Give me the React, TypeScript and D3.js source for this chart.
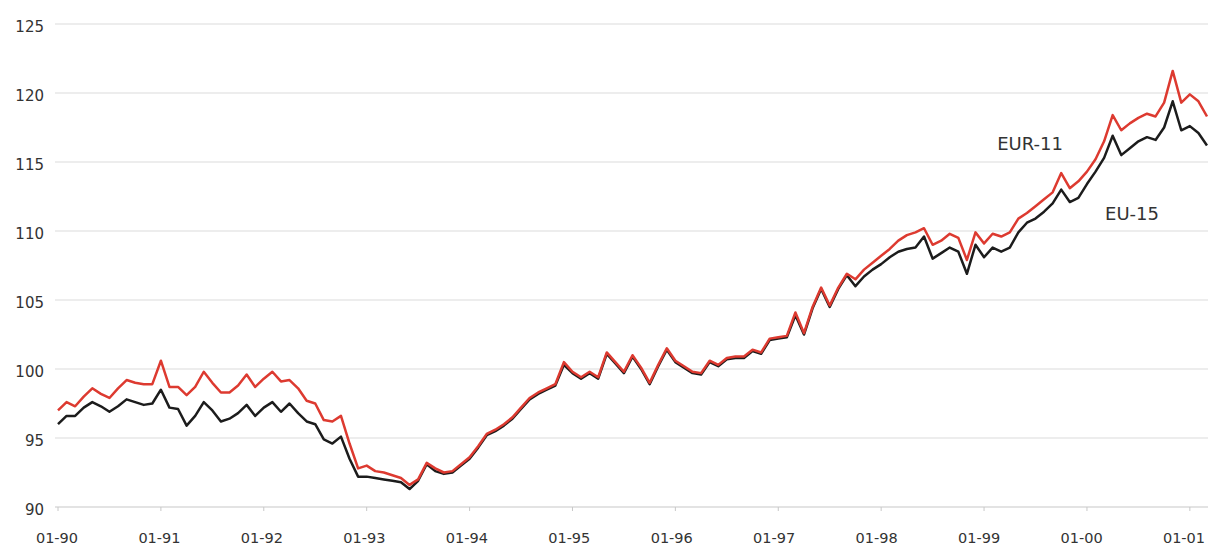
import * as d3 from 'd3';

// monthly index values, Jan 1990 - Mar 2001
const eur11 = [
  97.0, 97.6, 97.3, 98.0, 98.6, 98.2, 97.9, 98.6, 99.2, 99.0, 98.9, 98.9,
  100.6, 98.7, 98.7, 98.1, 98.7, 99.8, 99.0, 98.3, 98.3, 98.8, 99.6, 98.7,
  99.3, 99.8, 99.1, 99.2, 98.6, 97.7, 97.5, 96.3, 96.2, 96.6, 94.6, 92.8,
  93.0, 92.6, 92.5, 92.3, 92.1, 91.6, 92.0, 93.2, 92.8, 92.5, 92.6, 93.1,
  93.6, 94.4, 95.3, 95.6, 96.0, 96.5, 97.2, 97.9, 98.3, 98.6, 98.9, 100.5,
  99.8, 99.4, 99.8, 99.4, 101.2, 100.5, 99.8, 101.0, 100.1, 99.0, 100.3, 101.5,
  100.6, 100.2, 99.8, 99.7, 100.6, 100.3, 100.8, 100.9, 100.9, 101.4, 101.2, 102.2,
  102.3, 102.4, 104.1, 102.6, 104.5, 105.9, 104.6, 105.9, 106.9, 106.5, 107.2, 107.7,
  108.2, 108.7, 109.3, 109.7, 109.9, 110.2, 109.0, 109.3, 109.8, 109.5, 107.9, 109.9,
  109.1, 109.8, 109.6, 109.9, 110.9, 111.3, 111.8, 112.3, 112.8, 114.2, 113.1, 113.6,
  114.3, 115.2, 116.5, 118.4, 117.3, 117.8, 118.2, 118.5, 118.3, 119.3, 121.6, 119.3,
  119.9, 119.4, 118.3,
];

const eu15 = [
  96.0, 96.6, 96.6, 97.2, 97.6, 97.3, 96.9, 97.3, 97.8, 97.6, 97.4, 97.5,
  98.5, 97.2, 97.1, 95.9, 96.6, 97.6, 97.0, 96.2, 96.4, 96.8, 97.4, 96.6,
  97.2, 97.6, 96.9, 97.5, 96.8, 96.2, 96.0, 94.9, 94.6, 95.1, 93.5, 92.2,
  92.2, 92.1, 92.0, 91.9, 91.8, 91.3, 91.9, 93.1, 92.6, 92.4, 92.5, 93.0,
  93.5, 94.3, 95.2, 95.5, 95.9, 96.4, 97.1, 97.8, 98.2, 98.5, 98.8, 100.3,
  99.7, 99.3, 99.7, 99.3, 101.1, 100.4, 99.7, 100.9, 100.0, 98.9, 100.2, 101.4,
  100.5, 100.1, 99.7, 99.6, 100.5, 100.2, 100.7, 100.8, 100.8, 101.3, 101.1, 102.1,
  102.2, 102.3, 103.9, 102.5, 104.4, 105.8, 104.5, 105.8, 106.8, 106.0, 106.7, 107.2,
  107.6, 108.1, 108.5, 108.7, 108.8, 109.6, 108.0, 108.4, 108.8, 108.5, 106.9, 109.0,
  108.1, 108.8, 108.5, 108.8, 109.9, 110.6, 110.9, 111.4, 112.0, 113.0, 112.1, 112.4,
  113.4, 114.3, 115.3, 116.9, 115.5, 116.0, 116.5, 116.8, 116.6, 117.5, 119.4, 117.3,
  117.6, 117.1, 116.2,
];

const yTicks = [90, 95, 100, 105, 110, 115, 120, 125];
const xTickLabels = ['01-90', '01-91', '01-92', '01-93', '01-94', '01-95', '01-96', '01-97', '01-98', '01-99', '01-00', '01-01'];

const W = 1208;
const H = 548;

const App = () => {
  const x = d3.scaleLinear().domain([0, eur11.length - 1]).range([58, 1207]);
  const y = d3.scaleLinear().domain([90, 125]).range([507, 24]);
  // year labels sit a touch left of their ticks towards the right end
  const labelX = d3.scaleLinear().domain([0, xTickLabels.length - 1]).range([57, 1184]);

  const line = d3.line<number>()
    .x((_, i) => x(i))
    .y((d) => y(d));

  const font = '"DejaVu Sans", Verdana, sans-serif';

  return (
    <svg width={W} height={H} style={{ position: 'absolute', left: 0, top: 0, background: '#fff' }}>
      {yTicks.map((t) => (
        <g key={t}>
          <line x1={55} x2={W} y1={y(t)} y2={y(t)} stroke={t === 90 ? '#c8c8c8' : '#dcdcdc'} strokeWidth={1.2} />
          <text x={44} y={y(t) + 8} textAnchor="end" fontSize={15} fill="#333" fontFamily={font}>{t}</text>
        </g>
      ))}
      {xTickLabels.map((lab, k) => (
        <g key={lab}>
          <line x1={x(k * 12)} x2={x(k * 12)} y1={y(90)} y2={y(90) + 4} stroke="#c8c8c8" />
          <text x={labelX(k)} y={543} textAnchor="middle" fontSize={14.5} fill="#333" fontFamily={font}>{lab}</text>
        </g>
      ))}
      <path d={line(eu15) || ''} fill="none" stroke="#1c1c1c" strokeWidth={2.5} strokeLinejoin="round" />
      <path d={line(eur11) || ''} fill="none" stroke="#dd3a30" strokeWidth={2.5} strokeLinejoin="round" />
      <text x={1030} y={150} textAnchor="middle" fontSize={18} fill="#333" fontFamily={font}>EUR-11</text>
      <text x={1132} y={220} textAnchor="middle" fontSize={18} fill="#333" fontFamily={font}>EU-15</text>
    </svg>
  );
};

export default App;
